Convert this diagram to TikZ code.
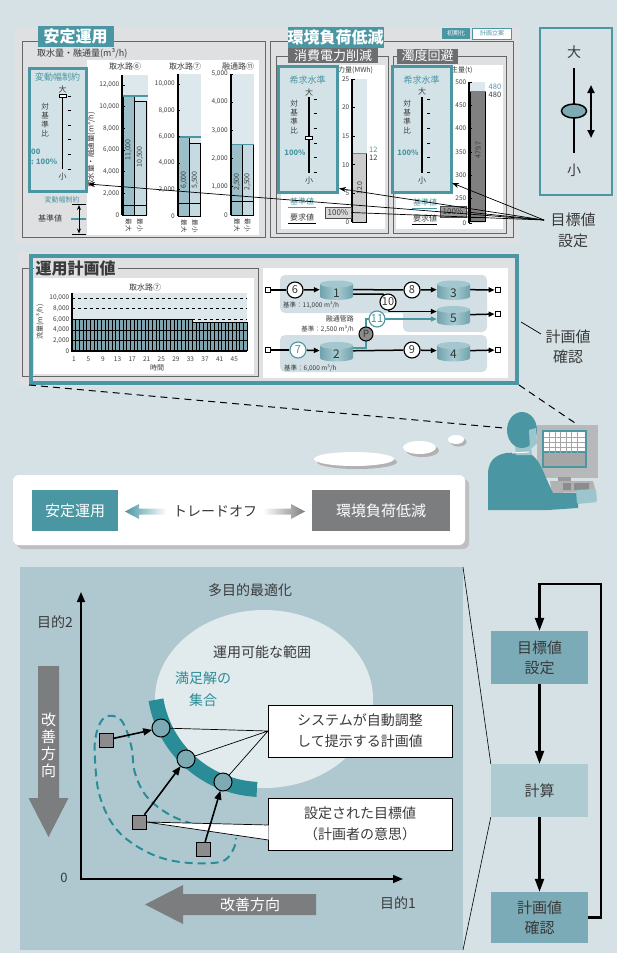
\documentclass[tikz,border=0pt]{standalone}
\usepackage{fontspec}
\setmainfont{Noto Sans CJK JP}
\usetikzlibrary{arrows.meta,calc,shapes.geometric}
\newcommand{\fsz}[2]{\fontsize{#1}{#2}\selectfont}
\definecolor{bgblue}{HTML}{D6E1E5}
\definecolor{panelgray}{HTML}{DFE0E1}
\definecolor{tealA}{HTML}{4A97A3}
\definecolor{tealB}{HTML}{2A8C97}
\definecolor{boxblue}{HTML}{D3E2E7}
\definecolor{chartbg}{HTML}{DCE8EB}
\definecolor{barA}{HTML}{9BBEC8}
\definecolor{barB}{HTML}{C6DBE1}
\definecolor{barT}{HTML}{7EA5AF}
\definecolor{grayT}{HTML}{6D6E70}
\definecolor{grayBox}{HTML}{7C7D7F}
\definecolor{botpanel}{HTML}{AFC8D0}
\definecolor{ovalbg}{HTML}{E1EBEE}
\definecolor{dotfill}{HTML}{7EAAB4}
\definecolor{sqfill}{HTML}{8C8C8E}
\definecolor{flowA}{HTML}{7BABB6}
\definecolor{flowB}{HTML}{AFCBD2}
\definecolor{netbg}{HTML}{D2E0E5}
\definecolor{tankD}{HTML}{6FA2AC}
\definecolor{tankL}{HTML}{A9CCD3}
\definecolor{tankT}{HTML}{A3C7CF}
\definecolor{txt}{HTML}{3A3A3A}
\definecolor{neckC}{HTML}{9CC6CD}
\definecolor{monGray}{HTML}{B7B8BA}
\pgfdeclarelayer{back}
\pgfdeclarelayer{wires}
\pgfsetlayers{back,wires,main}
\tikzset{
  every node/.style={inner sep=0pt, text=txt},
  ttl/.style={fill=tealA, text=white, font=\fsz{16}{18}\bfseries, minimum height=21},
  subttl/.style={fill=grayT, text=white, font=\fsz{13}{15}, minimum height=15},
  frameline/.style={draw=black!60, line width=0.6},
  prefbox/.style={draw=tealA, line width=3, fill=boxblue},
  ytick/.style={font=\fsz{6.5}{7}, anchor=east, text=black!75},
  barline/.style={draw=black, line width=0.7},
  net/.style={circle, draw, line width=1.1, fill=white, minimum size=16, font=\fsz{11}{12}},
  term/.style={draw, line width=1.2, fill=white, minimum size=5.5},
  tanknode/.style={minimum width=33, minimum height=18},
  pipe/.style={line width=1.5},
  flow/.style={line width=1.5, -{Triangle[length=6,width=5]}},
  tealflow/.style={draw=tealA, line width=1.5, -{Triangle[length=6,width=5]}},
  bigflow/.style={line width=2.2, -{Triangle[length=13,width=9]}},
  lead/.style={line width=0.7},
  pics/tank/.style={code={
     \shade[left color=tankD, right color=tankD, middle color=tankL] (-16.5,-5.5) -- (-16.5,7) .. controls (-16.5,11.5) and (16.5,11.5) .. (16.5,7) -- (16.5,-5.5) -- cycle;
     \fill[tankT] (0,-5.5) ellipse [x radius=16.5, y radius=3.5];
     \node[font=\fsz{12}{13}, text=black!80] (-num) at (0,3.5) {#1};
  }},
}
% vertical preference slider: x, first tick, last tick, knob positions
\newcommand{\prefslider}[4]{%
  \draw[line width=1.1] (#1,{#2-2}) -- (#1,#3);
  \foreach \ii in {0,...,5} \draw[line width=0.9] ({#1+5},{#2+\ii*(#3-#2)/5}) -- ({#1+8},{#2+\ii*(#3-#2)/5});
  \foreach \kk in {#4} \node[draw, fill=white, line width=0.6, minimum width=7, minimum height=3] at (#1,\kk) {};
}
\begin{document}
\begin{tikzpicture}[x=1pt,y=-1pt]
\useasboundingbox (0,0) rectangle (617,953);
\begin{pgfonlayer}{back}
\fill[bgblue] (0,0) rectangle (617,953);
\end{pgfonlayer}

%================ operation settings panel ================
\fill[panelgray] (15,27) rectangle (520,243);
\draw[frameline] (22,41) rectangle (265,237);
\draw[frameline] (270,41) rectangle (513,237);
\fill[white] (87,60) rectangle (259,235);
\node[ttl, minimum width=76] (ttlA) at (75.5,36) {安定運用};
\node[ttl, minimum width=95] (ttlB) at (335.5,37) {環境負荷低減};
\node[fill=tealA, text=white, font=\fsz{6}{7}, minimum width=28, minimum height=11] (btnInit) at (456,33.5) {初期化};
\node[fill=white, draw=tealA, line width=0.8, text=tealA, font=\fsz{6}{7}, minimum width=39, minimum height=11] (btnPlan) at (492,33.5) {計画立案};
\node[anchor=west, font=\fsz{9}{10}] (unitA) at (37,53) {取水量・融通量(m³/h)};
\node[rotate=90, font=\fsz{7.5}{8}] (unitAv) at (91,150) {取水量・融通量(m³/h)};

% --- intake 6
\fill[chartbg] (122,75) rectangle (148,215);
\fill[barA] (123,96.5) rectangle (134,215);
\fill[barB] (134,101.3) rectangle (146,215);
\draw[barline] (123,96.5) rectangle (134,215) (134,101.3) rectangle (146,215) (123,205) -- (146,205);
\draw[tealA, line width=1.5] (122,95.8) -- (148,95.8);
\draw[line width=1.6] (122,75) -- (122,215);
\foreach \lab/\yy in {{12,000}/85,{10,000}/106.7,{8,000}/128.4,{6,000}/150,{4,000}/171.7,{2,000}/193.3,0/215} {
  \node[ytick] at (119.5,\yy) {\lab}; \draw[line width=0.8] (122,\yy) -- (124.5,\yy);}
\node[font=\fsz{8}{9}] (hdr6) at (125,66) {取水路⑥};
\node[rotate=90, font=\fsz{7}{8}] (v6a) at (128.5,150) {11,000};
\node[rotate=90, font=\fsz{7}{8}] (v6b) at (140,157) {10,500};
\node[rotate=-90, font=\fsz{6.5}{7}] (m6a) at (128.5,225) {最大};
\node[rotate=-90, font=\fsz{6.5}{7}] (m6b) at (140,225) {最小};

% --- intake 7
\fill[chartbg] (178,74) rectangle (201,216);
\fill[barA] (178.5,137.5) rectangle (189.5,216);
\fill[barB] (189.5,143.4) rectangle (200.5,216);
\draw[barline] (178.5,137.5) rectangle (189.5,216) (189.5,143.4) rectangle (200.5,216) (178.5,203) -- (200.5,203);
\draw[tealA, line width=1.5] (178,136.8) -- (201,136.8);
\draw[line width=1.6] (177.7,74) -- (177.7,216);
\foreach \lab/\yy in {{10,000}/84,{8,000}/110.4,{6,000}/136.8,{4,000}/163.2,{2,000}/189.6,0/216} {
  \node[ytick] at (175,\yy) {\lab}; \draw[line width=0.8] (177.7,\yy) -- (180,\yy);}
\node[font=\fsz{8}{9}] (hdr7) at (185,66.5) {取水路⑦};
\node[rotate=90, font=\fsz{7}{8}] (v7a) at (184,180) {6,000};
\node[rotate=90, font=\fsz{7}{8}] (v7b) at (195,180) {5,500};
\node[rotate=-90, font=\fsz{6.5}{7}] (m7a) at (184,226) {最大};
\node[rotate=-90, font=\fsz{6.5}{7}] (m7b) at (195,226) {最小};

% --- interchange 11
\fill[chartbg] (231,74) rectangle (254,215);
\fill[barA] (231.5,144.5) rectangle (242,215);
\fill[barB] (242,144.5) rectangle (253,215);
\draw[barline] (231.5,144.5) rectangle (242,215) (242,144.5) rectangle (253,215) (231.5,201.5) -- (253,201.5);
\draw[tealA, line width=1.5] (231,144.5) -- (254,144.5);
\draw[line width=1.6] (230.7,74) -- (230.7,215);
\foreach \lab/\yy in {{5,000}/74,{4,000}/102.2,{3,000}/130.4,{2,000}/158.6,{1,000}/186.8,0/215} {
  \node[ytick] at (228,\yy) {\lab}; \draw[line width=0.8] (230.7,\yy) -- (233,\yy);}
\node[font=\fsz{8}{9}] (hdr11) at (238,66.5) {融通路⑪};
\node[rotate=90, font=\fsz{7}{8}] (v11a) at (237,182) {2,500};
\node[rotate=90, font=\fsz{7}{8}] (v11b) at (247.5,182) {2,500};
\node[rotate=-90, font=\fsz{6.5}{7}] (m11a) at (237,225) {最大};
\node[rotate=-90, font=\fsz{6.5}{7}] (m11b) at (247.5,225) {最小};

% --- fluctuation limit box
\node[prefbox, minimum width=56.5, minimum height=122.5] (rangeBox) at (57.75,129.75) {};
\node[font=\fsz{9}{10}, text=tealA] (rangeTtl) at (57.5,77.5) {変動幅制約};
\prefslider{62.5}{96}{169}{96}
\node[font=\fsz{8}{9}] (bigA) at (62.5,89) {大};
\node[font=\fsz{8}{9}] (smallA) at (62.5,176.5) {小};
\node[font=\fsz{7.5}{9}, align=center] (ratioA) at (45,120) {対\\基\\準\\比};
\node[anchor=west, font=\fsz{7.5}{8}\bfseries, text=tealA] (pctA1) at (31,152) {00};
\node[anchor=west, font=\fsz{7.5}{8}\bfseries, text=tealA] (pctA2) at (31,161.5) {: 100\%};
\node[font=\fsz{7}{8}, text=tealA] (rangeLbl) at (62,200) {変動幅制約};
\node[font=\fsz{8}{9}] (baseLblA) at (50,218.5) {基準値};
\draw[tealA, line width=1.5] (71,219) -- (86,219);
\draw[line width=0.9] (72,204.5) -- (86,204.5) (72,234) -- (86,234);
\draw[line width=1, {Stealth[length=5,width=4]}-{Stealth[length=5,width=4]}] (79,205) -- (79,233.5);

% --- power reduction
\draw[frameline] (276,56) rectangle (388,233);
\draw[frameline] (393,56) rectangle (506,233);
\fill[white] (281,65) rectangle (385,229);
\fill[white] (396,65) rectangle (503,229);
\node[subttl, minimum width=90] (subA) at (333,55.5) {消費電力削減};
\node[subttl, minimum width=61] (subB) at (427.5,56) {濁度回避};

\fill[chartbg] (352,79) rectangle (367,222);
\fill[black!20] (352.5,153.4) rectangle (366,222);
\draw[barline] (352.5,153.4) rectangle (366,222);
\draw[tealA, line width=1.5] (352,153.4) -- (367,153.4);
\draw[line width=1.6] (352,79) -- (352,222);
\foreach \lab/\yy in {25/79,20/107.6,15/136.2,10/164.8,5/193.4,0/222} {
  \node[ytick] at (349.5,\yy) {\lab}; \draw[line width=0.8] (352,\yy) -- (354.5,\yy);}
\node[anchor=west, font=\fsz{7}{8}] (unitP) at (338,70.5) {力量(MWh)};
\node[rotate=90, font=\fsz{7}{8}] (vP) at (359.5,188) {12.0};
\node[anchor=west, font=\fsz{7.5}{8}, text=tealA] (pTarget) at (369,150) {12};
\node[anchor=west, font=\fsz{7.5}{8}] (pReq) at (369,157.5) {12};

\node[prefbox, minimum width=59, minimum height=126] (powerBox) at (307.5,129) {};
\node[font=\fsz{9}{10}, text=tealA] (powerTtl) at (307.5,80) {希求水準};
\prefslider{309}{99}{172.5}{138}
\node[font=\fsz{8}{9}] (bigP) at (309,92) {大};
\node[font=\fsz{8}{9}] (smallP) at (309,181) {小};
\node[font=\fsz{7.5}{9}, align=center] (ratioP) at (294,117) {対\\基\\準\\比};
\node[font=\fsz{7.5}{8}\bfseries, text=tealA] (pctP) at (295,153) {100\%};
\node[font=\fsz{8}{9}, text=tealA] (baseP) at (302,201.5) {基準値};
\draw[tealA, line width=1] (288,207.5) -- (316,207.5);
\node[font=\fsz{8}{9}] (reqP) at (302,217.5) {要求値};
\draw[line width=1] (288,223.5) -- (316,223.5);
\node[fill=black!15, draw=black!70, line width=0.8, minimum width=26, minimum height=11, font=\fsz{8}{9}] (pctBoxP) at (338,212.5) {100\%};

% --- turbidity avoidance
\fill[chartbg] (470,82) rectangle (485,223);
\fill[black!50] (470.5,91.3) rectangle (485.5,221);
\draw[barline] (470.5,91.3) rectangle (485.5,221) (470.5,217) -- (485.5,217);
\draw[tealA, line width=1.5] (469,91.3) -- (486,91.3);
\draw[line width=1.6] (469,82) -- (469,223);
\foreach \lab/\yy in {500/82,450/105.3,400/128.6,350/152,300/175.3,250/198.6,0/223} {
  \node[ytick] at (466.5,\yy) {\lab}; \draw[line width=0.8] (469,\yy) -- (471.5,\yy);}
\node[anchor=west, font=\fsz{7}{8}] (unitT) at (451,70.5) {生量(t)};
\node[rotate=90, font=\fsz{7}{8}] (vT) at (478,150) {479.7};
\node[anchor=west, font=\fsz{7.5}{8}, text=tealA] (tTarget) at (488.5,87) {480};
\node[anchor=west, font=\fsz{7.5}{8}] (tReq) at (488.5,94.5) {480};

\node[prefbox, minimum width=59, minimum height=126] (turbBox) at (421.5,129) {};
\node[font=\fsz{9}{10}, text=tealA] (turbTtl) at (421.5,80) {希求水準};
\prefslider{422}{99}{172.5}{{99,138}}
\node[font=\fsz{8}{9}] (bigT) at (422,91.5) {大};
\node[font=\fsz{8}{9}] (smallT) at (422,181) {小};
\node[font=\fsz{7.5}{9}, align=center] (ratioT) at (407,117) {対\\基\\準\\比};
\node[font=\fsz{7.5}{8}\bfseries, text=tealA] (pctT) at (408,153) {100\%};
\node[font=\fsz{8}{9}, text=tealA] (baseT) at (425,202) {基準値};
\draw[tealA, line width=1] (412,208) -- (437,208);
\node[font=\fsz{8}{9}] (reqT) at (425,218) {要求値};
\draw[line width=1] (412,224) -- (437,224);
\node[fill=black!40, draw=black!70, line width=0.8, minimum width=26, minimum height=11, font=\fsz{8}{9}] (pctBoxT) at (453,212) {100\%};

% --- big / small slider legend
\node[draw=tealA, line width=2.2, minimum width=72, minimum height=167] (sliderBox) at (576,111.5) {};
\node[font=\fsz{14}{15}] (bigS) at (574,52) {大};
\node[font=\fsz{14}{15}] (smallS) at (574,170) {小};
\draw[line width=2.5] (574,68) -- (574,153);
\node[ellipse, draw, line width=1.5, fill=dotfill, minimum width=25, minimum height=14] (knobS) at (574,111) {};
\draw[line width=2, {Triangle[length=8,width=7]}-{Triangle[length=8,width=7]}] (591,85) -- (591,138);

\node[font=\fsz{15}{21}, align=center] (goalLbl) at (573,230) {目標値\\設定};
\coordinate (goalPt) at (544,220);
\coordinate (toRange) at (88,184);
\coordinate (toPower) at (339,188.5);
\coordinate (toTurb) at (452,183);
\draw[lead, -{Stealth[length=7,width=5]}] (goalPt) -- (toRange);
\draw[lead, -{Stealth[length=7,width=5]}] (goalPt) -- (toPower);
\draw[lead, -{Stealth[length=7,width=5]}] (goalPt) -- (toTurb);
\draw[lead] (goalPt) -- (pctBoxP.east);
\draw[lead] (goalPt) -- (pctBoxT.east);

%================ operation plan panel ================
\begin{pgfonlayer}{back}
\fill[panelgray] (18,252) rectangle (519,386);
\draw[frameline] (22,268) rectangle (258,376);
\node[draw=tealA, line width=4, minimum width=486, minimum height=127] (planFrame) at (274,319.5) {};
\fill[white] (34,278) rectangle (254,374);
\fill[white] (263,268) rectangle (508,378);
\fill[netbg, rounded corners=5] (280,275) rectangle (487,313);
\fill[netbg, rounded corners=5] (403,300) rectangle (487,332);
\fill[netbg, rounded corners=5] (280,335) rectangle (487,372);
\end{pgfonlayer}
\node[fill=panelgray, font=\fsz{16}{18}\bfseries, inner xsep=2, minimum height=16] (ttlPlan) at (75.5,268) {運用計画値};

% hourly intake chart
\node[font=\fsz{8}{9}] (hdrT) at (145,287) {取水路⑦};
\fill[chartbg] (72,293) rectangle (247,351);
\draw[dashed, line width=0.8] (72,298) -- (247,298) (72,308.6) -- (247,308.6) (192.3,319.3) -- (247,319.3);
\fill[barT] (72,319.3) rectangle (192.3,351);
\fill[barT] (192.3,322.3) rectangle (247,351);
\foreach \i in {0,...,48} \draw[line width=0.6] ({72+3.646*\i},{\i<34 ? 319.3 : 322.3}) -- ({72+3.646*\i},351);
\draw[line width=0.7] (72,330) -- (247,330) (72,340.5) -- (247,340.5);
\draw[line width=1] (72,319.3) -- (192.3,319.3) -- (192.3,322.3) -- (247,322.3) -- (247,351);
\draw[line width=1.4] (72,293) -- (72,351) -- (247,351);
\foreach \lab/\yy in {{10,000}/298,{8,000}/308.6,{6,000}/319.3,{4,000}/330,{2,000}/340.5,0/351}
  \node[ytick] at (69.5,\yy) {\lab};
\foreach \k in {0,...,11} \node[font=\fsz{6.5}{7}, text=black!75] at ({72+3.646*(4*\k+0.5)},359) {\pgfmathparse{int(4*\k+1)}\pgfmathresult};
\node[font=\fsz{7}{8}] (hourLbl) at (157,368) {時間};
\node[rotate=90, font=\fsz{7}{8}] (flowLbl) at (40,322) {流量(m³/h)};

% water network
\node[term] (tin1) at (268,290) {};
\node[term] (tin2) at (268,350) {};
\node[term] (tout1) at (498,290) {};
\node[term] (tout2) at (498,314) {};
\node[term] (tout3) at (498,350) {};
\node[tanknode] (k1) at (336.5,289.5) {};
\node[tanknode] (k3) at (453.5,289.5) {};
\node[tanknode] (k5) at (453.5,315) {};
\node[tanknode] (k2) at (336.5,351) {};
\node[tanknode] (k4) at (453.5,351) {};
\pic (p1) at (k1) {tank=1};
\pic (p3) at (k3) {tank=3};
\pic (p5) at (k5) {tank=5};
\pic (p2) at (k2) {tank=2};
\pic (p4) at (k4) {tank=4};
\node[net] (c6) at (295,290) {6};
\node[net] (c8) at (412,290) {8};
\node[net] (c10) at (388,302) {10};
\node[net, draw=tealA, text=tealA] (c11) at (377,319) {11};
\node[net, draw=tealA, text=tealA] (c7) at (298,350) {7};
\node[net] (c9) at (412,350) {9};
\node[circle, draw, line width=1, fill=black!45, minimum size=14, font=\fsz{10}{11}] (pump) at (366,334) {P};
\coordinate (j10a) at (383,294);
\coordinate (j10b) at (389,311.5);
\coordinate (t11a) at (366,348);
\coordinate (t11b) at (366,319);
\begin{pgfonlayer}{wires}
\draw[pipe] (tin1) -- (c6);
\draw[flow] (c6) -- (k1);
\draw[pipe] (k1) -- (c8);
\draw[flow] (c8) -- (k3);
\draw[flow] (k3) -- (tout1);
\draw[pipe] ([yshift=-4.5pt]k1.east) -- (j10a) -- (j10b);
\draw[flow] (j10b) -- (k5.west |- j10b);
\draw[tealflow] ([yshift=3pt]k2.east) -- (t11a) -- (t11b) -- (k5.west |- t11b);
\draw[flow] (k5) -- (tout2);
\draw[pipe] (tin2) -- (c7);
\draw[flow] (c7) -- (k2);
\draw[pipe] (k2) -- (c9);
\draw[flow] (c9) -- (k4);
\draw[flow] (k4) -- (tout3);
\end{pgfonlayer}
\node[anchor=west, font=\fsz{6.5}{7}] (std1) at (283,305.5) {基準：11,000 m³/h};
\node[anchor=east, font=\fsz{7}{8}] (pipeLbl) at (354,319) {融通管路};
\node[anchor=east, font=\fsz{6.5}{7}] (std11) at (354,329.5) {基準：2,500 m³/h};
\node[anchor=west, font=\fsz{6.5}{7}] (std2) at (284,368) {基準：6,000 m³/h};

% plan check label
\node[font=\fsz{15}{20}, align=center] (checkLbl) at (568,347) {計画値\\確認};
\coordinate (checkPt) at (541,334);
\draw[lead] (checkPt) -- (521,322);

%================ operator ================
\coordinate (headPt) at (504,428);
\coordinate (monPt) at (578,425);
\draw[line width=1, dash pattern=on 7pt off 5pt] (planFrame.south west) -- (headPt);
\draw[line width=1, dash pattern=on 7pt off 5pt] (planFrame.south east) -- (monPt);
\fill[black!30] (357,462) ellipse [x radius=40, y radius=7];
\fill[white] (354,459) ellipse [x radius=40, y radius=7];
\fill[black!30] (422.5,450.5) ellipse [x radius=16.5, y radius=6.5];
\fill[white] (419.5,447.5) ellipse [x radius=16.5, y radius=6.5];
\fill[black!30] (458.5,442) ellipse [x radius=8, y radius=4.5];
\fill[white] (456,439.5) ellipse [x radius=8, y radius=4.5];

% monitor and keyboard
\fill[monGray] (537,425) rectangle (598,478);
\fill[tealA] (542,430) rectangle (587,468);
\fill[white] (544,432) rectangle (585,451);
\fill[black!35] (544,453) rectangle (585,466);
\foreach \gx in {549.5,555,560.5,566,571.5,577} \draw[black!35, line width=0.5] (\gx,432) -- (\gx,466);
\foreach \gy in {437,442,447,458,462} \draw[black!35, line width=0.5] (544,\gy) -- (585,\gy);
\fill[black!40] (558,477) rectangle (571,482);
\fill[black!30] (550,481) -- (593,481) -- (596,492) -- (552,493) -- cycle;
\fill[black!45] (563,483) rectangle (571,490) (574,483) rectangle (589,490);
% operator figure
\fill[tealA] (488,510) -- (488,472) .. controls (489,460) and (496,455) .. (506,453) -- (526,452) .. controls (536,455) and (541,465) .. (546,478) -- (553,493) -- (578,493) -- (578,508) -- (548,510) -- cycle;
\fill[neckC, rounded corners=2] (576,490) -- (596,489) -- (597,502) -- (577,504) -- cycle;
\fill[neckC] (514,438) -- (530,438) -- (532,455) -- (516,455) -- cycle;
\draw[white, line width=1] (512,453) -- (529,452);
\fill[tealA] (522,430) ellipse [x radius=15, y radius=18];
\fill[neckC] (529,430) -- (536,428) -- (537,443) -- (530,450) -- cycle;

%================ trade-off ================
\fill[black!25, rounded corners=6] (17,479) rectangle (469,549);
\node[fill=white, rounded corners=6, minimum width=452, minimum height=70] (tradeBox) at (239,510) {};
\node[fill=tealA, text=white, font=\fsz{15}{17}, minimum width=86, minimum height=41] (stableBox) at (75,510.5) {安定運用};
\node[fill=grayBox, text=white, font=\fsz{15}{17}, minimum width=138, minimum height=41] (envBox) at (381,510.5) {環境負荷低減};
\node[font=\fsz{14}{15}] (tradeLbl) at (215,511) {トレードオフ};
\shade[left color=tealA, right color=white] (125,511.5) -- (139,504) -- (139,508.5) -- (167,508.5) -- (167,514.5) -- (139,514.5) -- (139,519) -- cycle;
\shade[left color=white, right color=grayBox] (305,511.5) -- (291,504) -- (291,508.5) -- (263,508.5) -- (263,514.5) -- (291,514.5) -- (291,519) -- cycle;

%================ multi-objective optimisation ================
\fill[botpanel] (20,567) rectangle (463,950);
\coordinate (panNE) at (463,567);
\coordinate (panSE) at (463,950);
\node[font=\fsz{14}{15}] (moLbl) at (250,590) {多目的最適化};
\fill[ovalbg] (264,699) ellipse [x radius=109, y radius=89];
\node[font=\fsz{14}{15}] (feasLbl) at (262,652) {運用可能な範囲};
\node[font=\fsz{14}{22}, text=tealB, align=center] (satLbl) at (203,689) {満足解の\\集合};
\draw[tealB, line width=15] plot[domain=170.5:92.7, samples=60] ({262+107.5*cos(\x)}, {682+107.5*sin(\x)});
\draw[tealB, line width=2, dash pattern=on 8pt off 5pt] plot[smooth, tension=0.6] coordinates {(193,824) (170,815) (147,797) (135,773) (131,745) (121,720) (105,717) (96,735) (95,760) (100,797) (117,830) (147,852) (180,862) (220,862) (233,850) (236,838)};

\draw[line width=1.6, {Triangle[length=10,width=8]}-{Triangle[length=10,width=8]}] (81,592) -- (81,879) -- (403,879);
\node[font=\fsz{14}{15}] (obj2) at (55,622) {目的2};
\node[font=\fsz{13}{14}] (zeroLbl) at (64,878) {0};
\node[font=\fsz{14}{15}] (obj1) at (398,903) {目的1};
\fill[grayBox] (38,666) -- (59,666) -- (59,798) -- (68.5,798) -- (48.5,837) -- (28.5,798) -- (38,798) -- cycle;
\node[font=\fsz{15}{17}, text=white, align=center] (impV) at (48.5,745.5) {改\\善\\方\\向};
\fill[grayBox] (316,894) -- (316,915) -- (183,915) -- (183,924) -- (145,904.5) -- (183,885) -- (183,894) -- cycle;
\node[font=\fsz{15}{17}, text=white] (impH) at (250,904.5) {改善方向};

\coordinate (s1) at (161,728);
\coordinate (s2) at (186,759);
\coordinate (s3) at (223,782);
\node[minimum size=14] (g1) at (106,740) {};
\node[minimum size=14] (g2) at (139,822) {};
\node[minimum size=14] (g3) at (203,849) {};

\node[draw, line width=1, fill=white, minimum width=184, minimum height=52, font=\fsz{14}{21}, align=center] (sysBox) at (360,731) {システムが自動調整\\して提示する計画値};
\node[draw, line width=1, fill=white, minimum width=184, minimum height=52, font=\fsz{14}{21}, align=center] (tgtBox) at (360,824) {設定された目標値\\（計画者の意思）};
\coordinate (sysPt) at (268,731);
\draw[lead] (sysPt) -- (s1) (sysPt) -- (s2) (sysPt) -- (s3);
\filldraw[fill=white, draw=black, line width=0.7] (268.5,825) -- (g2.east) -- (268.5,840);
\draw[line width=1.6, -{Triangle[length=9,width=7]}] (g1) -- ($(s1)!9pt!(g1)$);
\draw[line width=1.6, -{Triangle[length=9,width=7]}] (g2) -- ($(s2)!9pt!(g2)$);
\draw[line width=1.6, -{Triangle[length=9,width=7]}] (g3) -- ($(s3)!9pt!(g3)$);
\node[circle, draw, line width=1, fill=dotfill, minimum size=18] (s1v) at (s1) {};
\node[circle, draw, line width=1, fill=dotfill, minimum size=18] (s2v) at (s2) {};
\node[circle, draw, line width=1, fill=dotfill, minimum size=18] (s3v) at (s3) {};
\node[draw, line width=1, fill=sqfill, minimum size=14] (g1v) at (g1) {};
\node[draw, line width=1, fill=sqfill, minimum size=14] (g2v) at (g2) {};
\node[draw, line width=1, fill=sqfill, minimum size=14] (g3v) at (g3) {};

%================ planning cycle ================
\node[fill=flowA, minimum width=97, minimum height=53, font=\fsz{15}{20}, align=center] (fGoal) at (539.5,657.5) {目標値\\設定};
\node[fill=flowB, minimum width=97, minimum height=53, font=\fsz{15}{20}] (fCalc) at (539.5,790.5) {計算};
\node[fill=flowA, minimum width=97, minimum height=51, font=\fsz{15}{20}, align=center] (fCheck) at (539.5,917.5) {計画値\\確認};
\draw[bigflow] (fGoal) -- (fCalc);
\draw[bigflow] (fCalc) -- (fCheck);
\draw[bigflow] (fCheck.east) -- (601,917.5) -- (601,584) -- (539.5,584) -- (fGoal.north);
\draw[line width=0.6] (fCalc.north west) -- (panNE);
\draw[line width=0.6] (fCalc.south west) -- (panSE);
\end{tikzpicture}
\end{document}
